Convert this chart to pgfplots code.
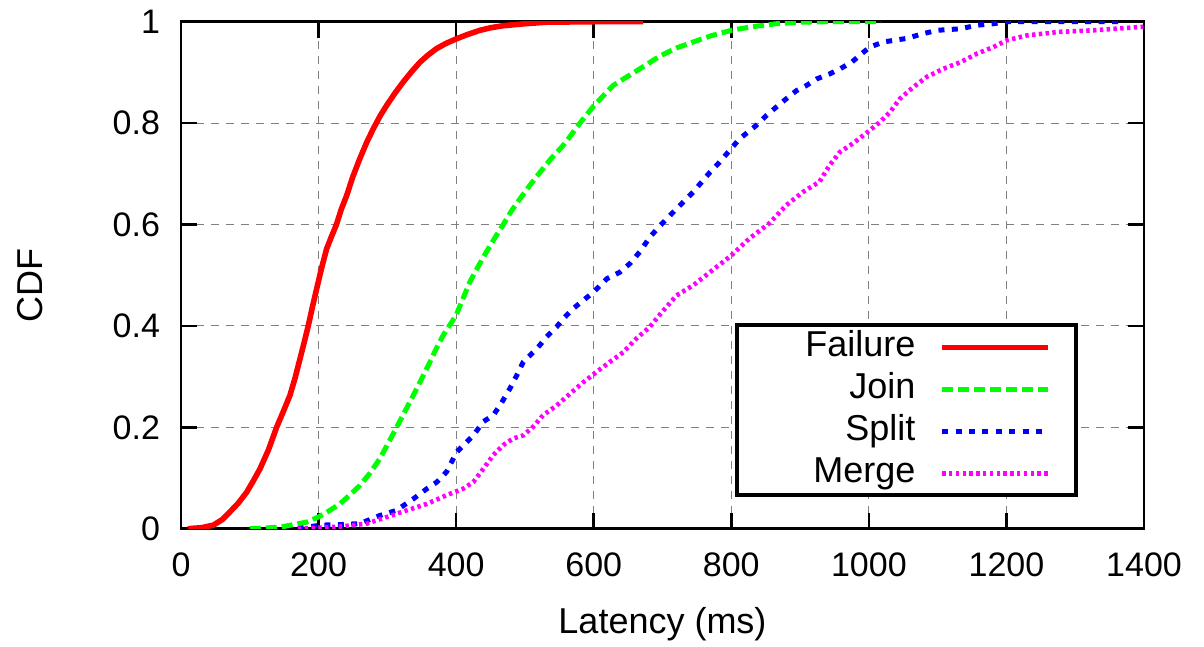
\documentclass[border=0pt]{standalone}
\usepackage{fontspec}
\setmainfont{Liberation Sans}
\usepackage{pgfplots}
\pgfplotsset{compat=1.18}
\usetikzlibrary{calc}

\definecolor{gpred}{RGB}{255,0,0}
\definecolor{gpgreen}{RGB}{0,255,0}
\definecolor{gpblue}{RGB}{0,0,255}
\definecolor{gpmagenta}{RGB}{255,0,255}

\begin{document}
\begin{tikzpicture}
\begin{axis}[
  scale only axis,
  width=481.5pt, height=253.5pt,
  xmin=0, xmax=1400, ymin=0, ymax=1,
  xtick={0,200,400,600,800,1000,1200,1400},
  ytick={0,0.2,0.4,0.6,0.8,1},
  tick align=inside,
  major tick length=8pt,
  every tick/.style={black, line width=1.3pt},
  axis line style={line width=1.3pt},
  grid=major,
  major grid style={gray, line width=0.5pt, dash pattern=on 4pt off 3.5pt},
  tick label style={font=\fontsize{17}{20}\selectfont},
  /pgf/number format/assume math mode=true,
  /pgf/number format/1000 sep={},
  xticklabel style={yshift=-8.5pt},
  yticklabel style={xshift=-7pt},
  xlabel={Latency (ms)},
  ylabel={CDF},
  label style={font=\fontsize{18}{21}\selectfont},
  xlabel style={at={(axis description cs:0.5,-0.189)}, anchor=center},
  ylabel style={at={(axis description cs:-0.157,0.48)}, anchor=center},
  legend style={at={(rel axis cs:0.9315,0.405)}, anchor=north east,
    draw=black, line width=2pt, fill=white,
    inner xsep=12.5pt, inner ysep=2.5pt, row sep=4pt, column sep=12pt,
    font=\fontsize{18}{21}\selectfont,
    nodes={inner sep=0pt, text height=13pt, text depth=4pt}},
  legend plot pos=right,
  legend cell align=right,
  legend image code/.code={\draw[#1] (0pt,0pt) -- (53pt,0pt);},
  every axis plot/.append style={line join=round, mark=none},
]
\addplot[gpred, line width=2.8pt] coordinates {
(10,0) (30,0.002) (47,0.007) (60,0.018) (71,0.033) (83,0.05) (95.5,0.072)
(105,0.094) (114.8,0.118) (127,0.155) (139,0.2) (149,0.232) (158.4,0.263)
(166,0.298) (173,0.335) (179,0.367) (185,0.4) (191,0.437) (197.2,0.473)
(204,0.512) (211.7,0.552) (219,0.577) (226,0.6) (233,0.63) (240.8,0.657)
(250,0.695) (260,0.73) (270,0.762) (279.6,0.789) (289,0.813) (299,0.835)
(311,0.859) (323,0.881) (335,0.901) (347.4,0.92) (359,0.934) (371.6,0.947)
(385,0.957) (400,0.966) (417,0.975) (434.6,0.983) (450,0.988) (468,0.992)
(500,0.996) (531,0.999) (600,1) (672,1)};
\addlegendentry{\makebox[76.5pt][r]{Failure}}

\addplot[gpgreen, line width=2.5pt, dash pattern=on 5.5pt off 2.5pt] coordinates {
(100,0) (143.8,0.003) (182.6,0.013) (199.6,0.023) (215,0.035) (231,0.049)
(245,0.066) (260,0.085) (275,0.11) (289,0.138) (301,0.168) (313.5,0.2)
(325,0.23) (337.7,0.263) (350,0.296) (362,0.329) (371,0.355) (381,0.381)
(400,0.421) (420,0.487) (432,0.517) (444,0.546) (456,0.573) (468.5,0.6)
(480,0.626) (493,0.651) (507,0.677) (522,0.703) (538,0.73) (555.7,0.756)
(568,0.778) (580,0.8) (600.7,0.835) (628,0.874) (667,0.907) (696,0.932)
(720,0.948) (744.6,0.96) (770,0.972) (800,0.983) (830,0.99) (865.7,0.996)
(900,0.999) (938,1) (1018,1)};
\addlegendentry{\makebox[76.5pt][r]{Join}}

\addplot[gpblue, line width=2.5pt, dash pattern=on 3pt off 3.7pt] coordinates {
(170,0) (202,0.007) (230,0.008) (260,0.01) (289,0.026) (313,0.036) (338,0.059)
(357.6,0.079) (372,0.092) (386,0.112) (400.7,0.151) (425,0.184) (439.4,0.211)
(454,0.224) (463.7,0.243) (478,0.276) (488,0.302) (497.6,0.329) (512,0.348)
(521.7,0.362) (531,0.378) (546,0.398) (555.7,0.414) (570,0.434) (600,0.467)
(619,0.493) (638,0.506) (652.6,0.523) (667,0.546) (681.6,0.575) (696,0.597)
(720.4,0.631) (744.6,0.664) (769,0.703) (783,0.723) (800,0.75) (812,0.769)
(836,0.795) (851,0.815) (865.7,0.832) (880,0.848) (894.7,0.864) (909,0.874)
(924,0.887) (943,0.897) (958,0.907) (975,0.92) (989.5,0.937) (1001.6,0.95)
(1021,0.96) (1055,0.967) (1075,0.975) (1099,0.983) (1133,0.986) (1157,0.993)
(1181,0.996) (1200,1) (1365,1)};
\addlegendentry{\makebox[76.5pt][r]{Split}}

\addplot[gpmagenta, line width=2.3pt, dash pattern=on 1.7pt off 1.7pt] coordinates {
(170,0) (230,0.004) (270,0.01) (299,0.023) (328,0.036) (357.6,0.049) (386,0.066)
(410.3,0.079) (425,0.092) (439.4,0.118) (454,0.145) (468.5,0.165) (483,0.178)
(497.6,0.184) (512,0.201) (526.6,0.224) (546,0.243) (565.4,0.266) (585,0.289)
(604,0.309) (623.5,0.329) (643,0.348) (662,0.375) (681.6,0.398) (696,0.422)
(720.4,0.46) (744.6,0.48) (769,0.506) (800,0.539) (826,0.572) (855,0.602)
(880,0.638) (904,0.664) (928,0.684) (943,0.717) (958,0.743) (977,0.76)
(1001.6,0.786) (1016,0.802) (1031,0.822) (1045,0.848) (1064.7,0.871)
(1084,0.891) (1108,0.907) (1133,0.92) (1157,0.937) (1181,0.95) (1200,0.963)
(1230,0.973) (1278,0.98) (1327,0.983) (1399,0.99)};
\addlegendentry{\makebox[76.5pt][r]{Merge}}
\end{axis}
\pgfresetboundingbox
\path[use as bounding box] ($(current axis.south west)+(-90.5pt,-58.85pt)$)
  rectangle ($(current axis.north east)+(30pt,10.85pt)$);
\end{tikzpicture}
\end{document}
